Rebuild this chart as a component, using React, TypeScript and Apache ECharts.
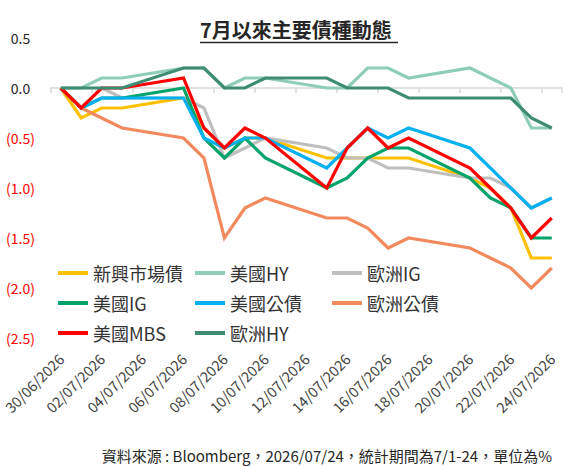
import React, { useEffect, useRef } from "react";
import * as echarts from "echarts";

const dates = [
  "30/06/2026", "01/07/2026", "02/07/2026", "03/07/2026", "04/07/2026",
  "05/07/2026", "06/07/2026", "07/07/2026", "08/07/2026", "09/07/2026",
  "10/07/2026", "11/07/2026", "12/07/2026", "13/07/2026", "14/07/2026",
  "15/07/2026", "16/07/2026", "17/07/2026", "18/07/2026", "19/07/2026",
  "20/07/2026", "21/07/2026", "22/07/2026", "23/07/2026", "24/07/2026",
];

const n = null;
const emDebt = [0, -0.3, -0.2, -0.2, n, n, -0.1, -0.4, -0.6, -0.5, -0.5, n, n, -0.7, -0.7, -0.7, -0.7, -0.7, n, n, -0.9, -1.0, -1.2, -1.7, -1.7];
const usHY = [0, 0, 0.1, 0.1, n, n, 0.2, 0.2, 0, 0.1, 0.1, n, n, 0, 0, 0.2, 0.2, 0.1, n, n, 0.2, 0.1, 0, -0.4, -0.4];
const euIG = [0, -0.2, 0, -0.1, n, n, -0.1, -0.2, -0.7, -0.6, -0.5, n, n, -0.6, -0.7, -0.7, -0.8, -0.8, n, n, -0.9, -0.9, -1.0, -1.2, -1.1];
const usIG = [0, -0.2, -0.1, -0.1, n, n, 0, -0.5, -0.7, -0.5, -0.7, n, n, -1.0, -0.9, -0.7, -0.6, -0.6, n, n, -0.9, -1.1, -1.2, -1.5, -1.5];
const usGov = [0, -0.2, -0.1, -0.1, n, n, -0.1, -0.5, -0.6, -0.5, -0.5, n, n, -0.8, -0.6, -0.4, -0.5, -0.4, n, n, -0.6, -0.8, -1.0, -1.2, -1.1];
const euGov = [0, -0.2, -0.3, -0.4, n, n, -0.5, -0.7, -1.5, -1.2, -1.1, n, n, -1.3, -1.3, -1.4, -1.6, -1.5, n, n, -1.6, -1.7, -1.8, -2.0, -1.8];
const usMBS = [0, -0.2, 0, 0, n, n, 0.1, -0.4, -0.6, -0.4, -0.5, n, n, -1.0, -0.6, -0.4, -0.6, -0.5, n, n, -0.8, -1.0, -1.2, -1.5, -1.3];
const euHY = [0, 0, 0, 0, n, n, 0.2, 0.2, 0, 0, 0.1, n, n, 0.1, 0, 0, 0, -0.1, n, n, -0.1, -0.1, -0.1, -0.3, -0.4];

const seriesNames = ["新興市場債", "美國HY", "歐洲IG", "美國IG", "美國公債", "歐洲公債", "美國MBS", "歐洲HY"];
const seriesData = [emDebt, usHY, euIG, usIG, usGov, euGov, usMBS, euHY];
const seriesColors = ["#FFC000", "#8ECDB8", "#BFBFBF", "#00A468", "#00B0F0", "#F28A5E", "#FF0000", "#3F8C74"];

const title = "7月以來主要債種動態";
const footnote = "資料來源 : Bloomberg，2026/07/24，統計期間為7/1-24，單位為%";

const FONT = "'Noto Sans CJK TC', 'Noto Sans', sans-serif";

export default function App() {
  const ref = useRef<HTMLDivElement>(null);
  useEffect(() => {
    if (!ref.current) return;
    const chart = echarts.init(ref.current, undefined, { renderer: "svg" });
    const legendCommon = {
      orient: "vertical",
      top: 263,
      padding: 0,
      itemWidth: 30,
      itemHeight: 4,
      itemGap: 10,
      icon: "rect",
      textStyle: { fontSize: 18, color: "#333333", lineHeight: 20, fontFamily: FONT },
    };
    chart.setOption({
      animation: false,
      backgroundColor: "#ffffff",
      title: {
        text: title,
        left: 200,
        top: 19,
        padding: 0,
        textStyle: { fontSize: 20, fontWeight: "bold", color: "#262626", fontFamily: FONT },
      },
      graphic: [
        {
          type: "line",
          shape: { x1: 200, y1: 42.5, x2: 398, y2: 42.5 },
          style: { stroke: "#262626", lineWidth: 1.5 },
        },
        {
          type: "text",
          x: 552,
          y: 455,
          style: {
            text: footnote,
            textAlign: "right",
            textVerticalAlign: "middle",
            fontSize: 15,
            fill: "#262626",
            fontFamily: FONT,
          },
        },
      ],
      legend: [
        { ...legendCommon, left: 58, data: [seriesNames[0], seriesNames[3], seriesNames[6]] },
        { ...legendCommon, left: 195, data: [seriesNames[1], seriesNames[4], seriesNames[7]] },
        { ...legendCommon, left: 332, data: [seriesNames[2], seriesNames[5]] },
      ],
      grid: { left: 48, right: 4, top: 38, bottom: 128, containLabel: false },
      xAxis: [
        {
          type: "category",
          data: dates,
          boundaryGap: true,
          position: "bottom",
          axisLine: { show: true, onZero: true, lineStyle: { color: "#D9D9D9", width: 1.5 } },
          axisTick: { show: true, interval: 1, length: 5, lineStyle: { color: "#D9D9D9", width: 1.5 } },
          axisLabel: { show: false },
          splitLine: { show: false },
        },
        {
          type: "category",
          data: dates,
          boundaryGap: true,
          position: "bottom",
          axisLine: { show: false, onZero: false },
          axisTick: { show: false },
          axisLabel: {
            interval: 1,
            rotate: 45,
            margin: 18,
            fontSize: 14.5,
            color: "#404040",
            fontFamily: FONT,
          },
          splitLine: { show: false },
        },
      ],
      yAxis: {
        type: "value",
        min: -2.5,
        max: 0.5,
        interval: 0.5,
        axisLine: { show: false },
        axisTick: { show: false },
        splitLine: { show: false },
        axisLabel: {
          margin: 30,
          align: "center",
          fontSize: 14,
          fontFamily: FONT,
          color: (v: any) => (Number(v) < -1e-9 ? "#FF0000" : "#262626"),
          formatter: (v: number) =>
            v < -1e-9 ? `(${Math.abs(v).toFixed(1)})` : Math.abs(v).toFixed(1),
        },
      },
      series: seriesNames.map((name, i) => ({
        name,
        type: "line",
        xAxisIndex: 0,
        data: seriesData[i],
        connectNulls: true,
        showSymbol: false,
        symbol: "none",
        color: seriesColors[i],
        lineStyle: { width: 3.2, color: seriesColors[i], join: "miter" },
        emphasis: { disabled: true },
      })),
    });
    return () => chart.dispose();
  }, []);
  return (
    <div
      ref={ref}
      style={{ position: "absolute", left: 0, top: 0, width: 566, height: 466 }}
    />
  );
}
